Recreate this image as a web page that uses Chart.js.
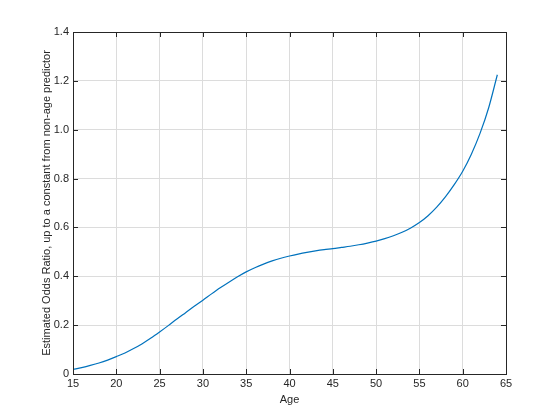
<!DOCTYPE html>
<html>
<head>
<meta charset="utf-8">
<script src="https://cdn.jsdelivr.net/npm/chart.js@4"></script>
<style>
  body { margin: 0; background: #fff; }
  #wrap { width: 560px; height: 420px; }
</style>
</head>
<body>
<div id="wrap"><canvas id="chart" width="560" height="420"></canvas></div>
<script>
// values
var ages = [15, 16, 17, 18, 19, 20, 21, 22, 23, 24, 25, 26, 27, 28, 29, 30, 31, 32, 33, 34, 35, 36, 37, 38, 39,
            40, 41, 42, 43, 44, 45, 46, 47, 48, 49, 50, 51, 52, 53, 54, 55, 56, 57, 58, 59, 60, 61, 62, 63, 64];
var oddsRatio = [0.018, 0.026, 0.035, 0.045, 0.057, 0.071, 0.086, 0.104, 0.124, 0.147,
                 0.172, 0.198, 0.225, 0.251, 0.277, 0.302, 0.328, 0.353, 0.376, 0.398,
                 0.418, 0.435, 0.450, 0.463, 0.474, 0.483, 0.491, 0.498, 0.504, 0.509,
                 0.513, 0.518, 0.523, 0.529, 0.536, 0.544, 0.554, 0.566, 0.580, 0.598,
                 0.620, 0.648, 0.683, 0.725, 0.774, 0.830, 0.900, 0.985, 1.090, 1.225];
var xTicks = [15, 20, 25, 30, 35, 40, 45, 50, 55, 60, 65];
var yTicks = [0, 0.2, 0.4, 0.6, 0.8, 1, 1.2, 1.4];

var points = ages.map(function(a, i) { return { x: a, y: oddsRatio[i] }; });
var font = { family: '"Liberation Sans", Arial, sans-serif', size: 11 };

// box around the axes and inward tick marks, MATLAB style
var boxPlugin = {
    id: 'box',
    afterDraw: function(chart) {
        var ctx = chart.ctx, a = chart.chartArea;
        var xs = chart.scales.x, ys = chart.scales.y;
        ctx.save();
        ctx.strokeStyle = '#262626';
        ctx.lineWidth = 1;
        ctx.beginPath();
        xTicks.forEach(function(t) {
            var px = Math.round(xs.getPixelForValue(t)) + 0.5;
            ctx.moveTo(px, a.bottom); ctx.lineTo(px, a.bottom - 5);
            ctx.moveTo(px, a.top); ctx.lineTo(px, a.top + 5);
        });
        yTicks.forEach(function(t) {
            var py = Math.round(ys.getPixelForValue(t)) + 0.5;
            ctx.moveTo(a.left, py); ctx.lineTo(a.left + 5, py);
            ctx.moveTo(a.right, py); ctx.lineTo(a.right - 5, py);
        });
        ctx.stroke();
        ctx.strokeRect(Math.round(a.left) + 0.5, Math.round(a.top) + 0.5,
                       Math.round(a.right - a.left), Math.round(a.bottom - a.top));
        ctx.restore();
    }
};

new Chart(document.getElementById('chart').getContext('2d'), {
    type: 'line',
    data: {
        datasets: [{
            data: points,
            borderColor: '#0072BD',
            borderWidth: 1.2,
            pointRadius: 0,
            fill: false,
            cubicInterpolationMode: 'monotone'
        }]
    },
    options: {
        responsive: false,
        animation: false,
        layout: { padding: { left: 40, right: 54, top: 32, bottom: 13 } },
        plugins: { legend: { display: false }, tooltip: { enabled: false } },
        scales: {
            x: {
                type: 'linear',
                min: 15, max: 65,
                afterBuildTicks: function(s) { s.ticks = xTicks.map(function(v) { return { value: v }; }); },
                afterFit: function(s) { s.height = 33; },
                grid: { color: '#dcdcdc', drawTicks: false },
                border: { display: false },
                ticks: { font: font, color: '#262626', padding: 3, maxRotation: 0 },
                title: { display: true, text: 'Age', font: font, color: '#262626', padding: 0 }
            },
            y: {
                min: 0, max: 1.4,
                afterBuildTicks: function(s) { s.ticks = yTicks.map(function(v) { return { value: v }; }); },
                afterFit: function(s) { s.width = 33; },
                grid: { color: '#dcdcdc', drawTicks: false },
                border: { display: false },
                ticks: { font: font, color: '#262626', padding: 4 },
                title: { display: true, text: 'Estimated Odds Ratio, up to a constant from non-age predictor',
                         font: font, color: '#262626', padding: 0 }
            }
        }
    },
    plugins: [boxPlugin]
});
</script>
</body>
</html>
